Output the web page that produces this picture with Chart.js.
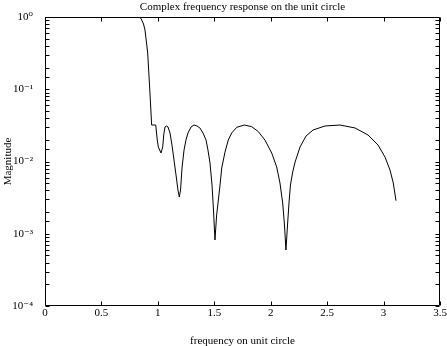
<!DOCTYPE html>
<html>
<head>
<meta charset="utf-8">
<script src="https://cdn.jsdelivr.net/npm/chart.js@4/dist/chart.umd.min.js"></script>
<style>
  html, body { margin: 0; padding: 0; background: #fff; }
  #wrap { width: 447px; height: 346px; }
</style>
</head>
<body>
<div id="wrap"><canvas id="respChart" width="447" height="346"></canvas></div>
<script>
// values
var freq = [0, 0.2, 0.4, 0.6, 0.8, 0.842, 0.857, 0.873, 0.886, 0.910, 0.930, 0.945, 0.981,
    0.995, 1.004, 1.028, 1.043, 1.052, 1.063, 1.078, 1.090, 1.108, 1.125, 1.143, 1.161, 1.178, 1.190,
    1.201, 1.214, 1.232, 1.249, 1.267, 1.294, 1.320, 1.347, 1.373, 1.400, 1.427, 1.444, 1.462, 1.480,
    1.493, 1.506, 1.521, 1.536, 1.551, 1.566, 1.595, 1.624, 1.654, 1.699, 1.766, 1.832, 1.890, 1.949,
    2.009, 2.053, 2.082, 2.106, 2.122, 2.135, 2.149, 2.162, 2.175, 2.195, 2.216, 2.260, 2.313, 2.375,
    2.481, 2.614, 2.747, 2.862, 2.951, 3.013, 3.057, 3.086, 3.110];
var magnitude = [1, 1, 1, 1, 1, 1, 0.909, 0.800, 0.661, 0.3175, 0.0887, 0.032, 0.032,
    0.0198, 0.0159, 0.0131, 0.0159, 0.0233, 0.030, 0.031, 0.030, 0.0248, 0.0169, 0.0105, 0.0065, 0.00403, 0.00323,
    0.00403, 0.00813, 0.0144, 0.0198, 0.0248, 0.030, 0.032, 0.031, 0.0291, 0.0248, 0.0198, 0.0144, 0.00953, 0.00473,
    0.00213, 0.000819, 0.00182, 0.00293, 0.00473, 0.00813, 0.0135, 0.0198, 0.0248, 0.0297, 0.032, 0.0303, 0.0259, 0.0198,
    0.0131, 0.0084, 0.00504, 0.00267, 0.00132, 0.000595, 0.00132, 0.00267, 0.00473, 0.00716, 0.00984, 0.0159, 0.0225, 0.0273,
    0.031, 0.032, 0.0291, 0.0233, 0.0169, 0.0115, 0.00762, 0.00504, 0.00287];
var xTicks = [0, 0.5, 1, 1.5, 2, 2.5, 3, 3.5];
var yDecades = [1, 0.1, 0.01, 0.001, 0.0001];
var yDecadeLabels = ['10\u2070', '10\u207B\u00B9', '10\u207B\u00B2', '10\u207B\u00B3', '10\u207B\u2074'];

var serif = '"Liberation Serif", "DejaVu Serif", serif';

var points = freq.map(function (f, i) { return { x: f, y: magnitude[i] }; });

// box with inward ticks on all four sides, plus the title
var frameTicks = {
    id: 'frameTicks',
    afterDraw: function (chart) {
        var ctx = chart.ctx;
        var a = chart.chartArea;
        var xs = chart.scales.x, ys = chart.scales.y;
        var L = Math.round(a.left) + 0.5, R = Math.round(a.right) - 0.5;
        var T = Math.round(a.top) + 0.5, B = Math.round(a.bottom) - 0.5;
        ctx.save();
        ctx.strokeStyle = '#000';
        ctx.lineWidth = 1;
        ctx.beginPath();
        ctx.rect(L, T, R - L, B - T);
        xTicks.forEach(function (v) {
            var px = Math.round(xs.getPixelForValue(v)) + 0.5;
            ctx.moveTo(px, B); ctx.lineTo(px, B - 4);
            ctx.moveTo(px, T); ctx.lineTo(px, T + 4);
        });
        ys.ticks.forEach(function (t) {
            var py = Math.round(ys.getPixelForValue(t.value)) + 0.5;
            ctx.moveTo(L, py); ctx.lineTo(L + 4, py);
            ctx.moveTo(R, py); ctx.lineTo(R - 4, py);
        });
        ctx.stroke();

        ctx.fillStyle = '#000';
        ctx.font = '11px ' + serif;
        ctx.textAlign = 'center';
        ctx.textBaseline = 'middle';
        ctx.fillText('Complex frequency response on the unit circle', (a.left + a.right) / 2, 7);
        ctx.restore();
    }
};

new Chart(document.getElementById('respChart'), {
    type: 'line',
    data: {
        datasets: [{
            data: points,
            borderColor: '#000',
            borderWidth: 1,
            pointRadius: 0,
            tension: 0,
            fill: false
        }]
    },
    options: {
        responsive: false,
        animation: false,
        layout: { padding: { top: 17, right: 7, left: 2, bottom: 0 } },
        plugins: {
            legend: { display: false },
            tooltip: { enabled: false },
            title: { display: false }
        },
        scales: {
            x: {
                type: 'linear',
                min: 0,
                max: 3.5,
                afterFit: function (scale) { scale.height = 40; },
                afterBuildTicks: function (scale) {
                    scale.ticks = xTicks.map(function (v) { return { value: v }; });
                },
                grid: { display: false },
                border: { display: false },
                ticks: {
                    color: '#000',
                    padding: -7,
                    maxRotation: 0,
                    font: { family: serif, size: 11 },
                    callback: function (v) { return String(v); }
                },
                title: {
                    display: true,
                    text: 'frequency on unit circle',
                    color: '#000',
                    font: { family: serif, size: 11 },
                    padding: { top: 0, bottom: -2 }
                }
            },
            y: {
                type: 'logarithmic',
                min: 0.0001,
                max: 1,
                afterFit: function (scale) { scale.width = 43; },
                grid: { display: false },
                border: { display: false },
                ticks: {
                    color: '#000',
                    padding: 4,
                    autoSkip: false,
                    font: { family: serif, size: 11 },
                    callback: function (v) {
                        var i = yDecades.indexOf(Number(v));
                        return i >= 0 ? yDecadeLabels[i] : '';
                    }
                },
                title: {
                    display: true,
                    text: 'Magnitude',
                    color: '#000',
                    font: { family: serif, size: 11 },
                    padding: { top: 0, bottom: 0 }
                }
            }
        }
    },
    plugins: [frameTicks]
});
</script>
</body>
</html>
